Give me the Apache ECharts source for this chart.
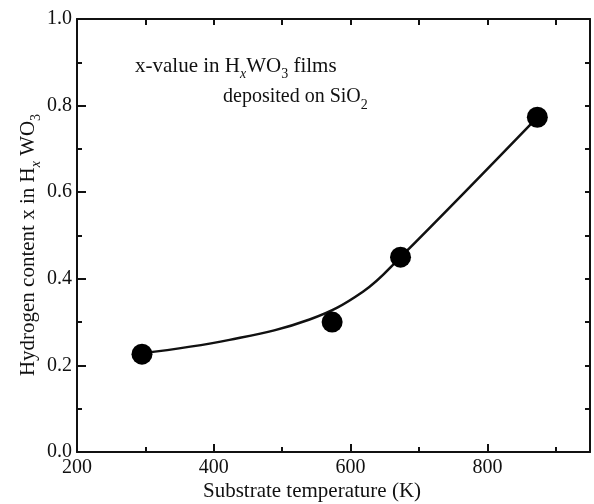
<!DOCTYPE html>
<html>
<head>
<meta charset="utf-8">
<script src="https://cdn.jsdelivr.net/npm/echarts@6/dist/echarts.min.js"></script>
<style>html,body{margin:0;padding:0;background:#fff}#c{width:594px;height:504px}</style>
</head>
<body>
<div id="c"></div>
<script>
// measured data
const temps = [295, 573, 673, 873];
const content = [0.226, 0.300, 0.450, 0.773];
// guide curve (hand-drawn fit)
const fitX = [295, 423, 540, 618, 673, 873];
const fitY = [0.228, 0.259, 0.306, 0.370, 0.450, 0.773];
const xTicks = [200, 400, 600, 800];
const yTicks = [0.0, 0.2, 0.4, 0.6, 0.8, 1.0];

const FONT = '"Liberation Serif", "DejaVu Serif", serif';
const ink = '#111';

const chart = echarts.init(document.getElementById('c'), null, {renderer: 'canvas'});
const subStyle = {fontSize: 14, fontFamily: FONT, color: ink, verticalAlign: 'bottom', lineHeight: 14};
const subIt = Object.assign({}, subStyle, {fontStyle: 'italic'});

chart.setOption({
  animation: false,
  backgroundColor: '#fff',
  grid: {left: 77, top: 19, right: 4, bottom: 52, containLabel: false},
  xAxis: [{
    type: 'value', min: 200, max: 950, interval: 200, position: 'bottom',
    axisLine: {show: true, onZero: false, lineStyle: {color: ink, width: 2}},
    axisTick: {show: true, inside: true, length: 8, lineStyle: {color: ink, width: 2}},
    minorTick: {show: true, splitNumber: 2, length: 5, lineStyle: {color: ink, width: 2}},
    splitLine: {show: false},
    axisLabel: {margin: 6, fontSize: 20, fontFamily: FONT, color: ink, showMaxLabel: false,
      formatter: v => xTicks.includes(v) ? String(v) : ''}
  }, {
    type: 'value', min: 200, max: 950, interval: 100, position: 'top',
    axisLine: {show: true, onZero: false, lineStyle: {color: ink, width: 2}},
    axisTick: {show: true, inside: true, length: 6, lineStyle: {color: ink, width: 2}},
    splitLine: {show: false}, axisLabel: {show: false}
  }],
  yAxis: [{
    type: 'value', min: 0, max: 1, interval: 0.2, position: 'left',
    axisLine: {show: true, onZero: false, lineStyle: {color: ink, width: 2}},
    axisTick: {show: true, inside: true, length: 9, lineStyle: {color: ink, width: 2}},
    minorTick: {show: true, splitNumber: 2, length: 5, lineStyle: {color: ink, width: 2}},
    splitLine: {show: false},
    axisLabel: {margin: 5, fontSize: 20, fontFamily: FONT, color: ink,
      formatter: v => yTicks.some(t => Math.abs(t - v) < 1e-9) ? v.toFixed(1) : ''}
  }, {
    type: 'value', min: 0, max: 1, interval: 0.1, position: 'right',
    axisLine: {show: true, onZero: false, lineStyle: {color: ink, width: 2}},
    axisTick: {show: true, inside: true, length: 5, lineStyle: {color: ink, width: 2}},
    splitLine: {show: false}, axisLabel: {show: false}
  }],
  series: [{
    type: 'line', xAxisIndex: 0, yAxisIndex: 0,
    data: fitX.map((x, i) => [x, fitY[i]]),
    smooth: 0.4, showSymbol: false, symbol: 'none',
    lineStyle: {color: ink, width: 2.5}, z: 2
  }, {
    type: 'scatter', xAxisIndex: 0, yAxisIndex: 0,
    data: temps.map((x, i) => [x, content[i]]),
    symbol: 'circle', symbolSize: 21,
    itemStyle: {color: '#000', opacity: 1}, z: 3
  }],
  graphic: [{
    type: 'text', x: 135, y: 66,
    style: {
      text: 'x-value in H{si|x}WO{s|3} films',
      verticalAlign: 'middle', align: 'left', lineHeight: 30,
      font: '21px ' + FONT, fill: ink,
      rich: {s: subStyle, si: subIt}
    }
  }, {
    type: 'text', x: 223, y: 97,
    style: {
      text: 'deposited on SiO{s|2}',
      verticalAlign: 'middle', align: 'left', lineHeight: 30,
      font: '20px ' + FONT, fill: ink,
      rich: {s: subStyle}
    }
  }, {
    type: 'text', x: 312, y: 491,
    style: {
      text: 'Substrate temperature (K)',
      align: 'center', verticalAlign: 'middle',
      font: '21px ' + FONT, fill: ink
    }
  }, {
    type: 'text', x: 28, y: 245, rotation: Math.PI / 2,
    style: {
      text: 'Hydrogen content x in H{si|x} WO{s|3}',
      align: 'center', verticalAlign: 'middle', lineHeight: 30,
      font: '21px ' + FONT, fill: ink,
      rich: {s: subStyle, si: subIt}
    }
  }]
});
</script>
</body>
</html>
